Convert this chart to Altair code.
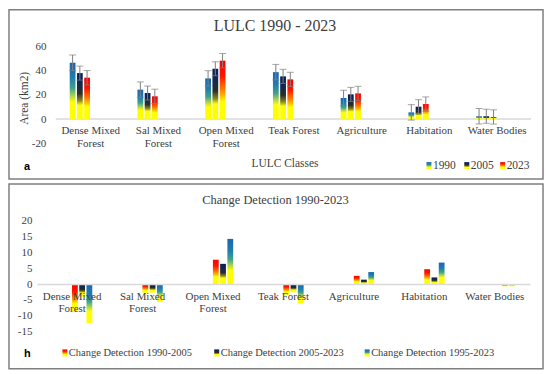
import altair as alt
import pandas as pd

# ---------------- data ----------------
categories = ["Dense Mixed Forest", "Sal Mixed Forest", "Open Mixed Forest",
              "Teak Forest", "Agriculture", "Habitation", "Water Bodies"]

series_area = ["1990", "2005", "2023"]
area_1990 = [46.6, 24.3, 33.6, 38.8, 17.4, 5.5, 2.3]
area_2005 = [38.0, 21.5, 41.6, 35.3, 20.4, 10.2, 2.3]
area_2023 = [34.2, 18.8, 48.3, 32.8, 21.2, 12.4, 1.7]
err_1990 = [6.4, 6.4, 6.4, 6.4, 6.4, 6.4, 6.4]
err_2005 = [5.8, 5.8, 5.8, 5.8, 5.8, 5.8, 5.8]
err_2023 = [5.9, 5.9, 5.9, 5.9, 5.9, 5.9, 5.9]

series_change = ["Change Detection 1990-2005", "Change Detection 2005-2023",
                 "Change Detection 1995-2023"]
change_1990_2005 = [-8.8, -2.8, 7.7, -3.4, 2.6, 4.7, 0.0]
change_2005_2023 = [-4.0, -2.7, 6.4, -2.6, 1.4, 2.1, -0.7]
change_1995_2023 = [-12.3, -5.7, 14.3, -6.1, 3.8, 6.8, -0.7]

y_ticks_a = [-20, 0, 20, 40, 60]
y_ticks_b = [-15, -10, -5, 0, 5, 10, 15, 20]

title_a = "LULC 1990 - 2023"
title_b = "Change Detection 1990-2023"
ytitle_a = "Area (km2)"
xtitle_a = "LULC Classes"

# ---------------- tables ----------------
rows_a = []
for s, vals, errs in zip(series_area, [area_1990, area_2005, area_2023],
                         [err_1990, err_2005, err_2023]):
    for c, v, e in zip(categories, vals, errs):
        rows_a.append({"category": c, "series": s, "value": v,
                       "lo": v - e, "hi": v + e})
df_a = pd.DataFrame(rows_a)

rows_b = []
for s, vals in zip(series_change, [change_1990_2005, change_2005_2023, change_1995_2023]):
    for c, v in zip(categories, vals):
        rows_b.append({"category": c, "series": s, "value": v})
df_b = pd.DataFrame(rows_b)

# ---------------- style ----------------
SERIF = "Liberation Serif"
TXT = "#404040"
FRAME = "#7f7f7f"
W = 495  # common plot width of both panels


def grad(stops):
    return alt.Gradient(gradient="linear", x1=0, x2=0, y1=0, y2=1,
                        stops=[alt.GradientStop(offset=o, color=c) for o, c in stops])


G_BLUE = grad([(0, "#1a66b2"), (0.26, "#1f7db0"), (0.45, "#3fa28a"),
               (0.6, "#b5d94a"), (0.7, "#ffff00"), (1, "#ffff00")])
G_NAVY = grad([(0, "#0b1f57"), (0.24, "#13274f"), (0.44, "#2c2e22"),
               (0.6, "#8c8c1c"), (0.7, "#ffff00"), (1, "#ffff00")])
G_RED = grad([(0, "#ff0000"), (0.26, "#ff1500"), (0.48, "#ff7800"),
              (0.62, "#ffc400"), (0.7, "#ffff00"), (1, "#ffff00")])
GRADS_A = [G_BLUE, G_NAVY, G_RED]
GRADS_B = [G_RED, G_NAVY, G_BLUE]


def txt(text, x, y, size, font=SERIF, weight="normal", align="center", angle=0, color=TXT):
    kw = dict(font=font, fontSize=size, fontWeight=weight, align=align,
              baseline="middle", color=color)
    if angle:
        kw["angle"] = angle
    return alt.Chart(alt.Data(values=[{"t": text}])).mark_text(**kw).encode(
        x=alt.value(x), y=alt.value(y), text="t:N")


def frame(x1, x2, y1, y2):
    return alt.Chart(alt.Data(values=[{"f": 1}])).mark_rect(
        filled=False, stroke=FRAME, strokeWidth=1.5).encode(
        x=alt.value(x1), x2=alt.value(x2), y=alt.value(y1), y2=alt.value(y2))


def legend_item(label, g, x, y, size):
    sq = alt.Chart(alt.Data(values=[{"t": label}])).mark_rect(fill=g).encode(
        x=alt.value(x), x2=alt.value(x + 5), y=alt.value(y - 3.5), y2=alt.value(y + 3.5))
    return [sq, txt(label, x + 6.5, y, size, align="left")]


def x_axis(offset, domain, zindex=0):
    return alt.Axis(title=None, labelAngle=0, domain=domain, domainColor="#d9d9d9",
                    domainWidth=1.5, ticks=False, offset=offset, labelFont=SERIF,
                    labelFontSize=11, labelColor=TXT, labelPadding=6,
                    labelLineHeight=12.5, labelOverlap=False, labelLimit=0,
                    zindex=zindex,
                    labelExpr="split(replace(datum.label, 'Mixed ', 'Mixed|'), '|')")


def y_axis(values, offset, pad):
    return alt.Axis(values=values, title=None, grid=False, domain=False, ticks=False,
                    labelFont=SERIF, labelFontSize=11, labelColor=TXT,
                    labelPadding=pad, offset=offset, labelOverlap=False,
                    labelExpr="toString(datum.value)")


# ---------------- panel a ----------------
H_A = 97
dom_a = [-20, 60]
off_a = -(H_A * (0 - dom_a[0]) / (dom_a[1] - dom_a[0]))
sc_ya = alt.Scale(domain=dom_a, nice=False)
ax_ya = y_axis(y_ticks_a, -14, 5)

xa = alt.X("category:N", sort=categories,
           scale=alt.Scale(paddingInner=0.38, paddingOuter=0.33, align=0.734),
           axis=x_axis(off_a, False))
xoa = alt.XOffset("series:N", sort=series_area,
                  scale=alt.Scale(domain=series_area, paddingInner=0.2, paddingOuter=0))


def ya(field):
    return alt.Y(f"{field}:Q", scale=sc_ya, axis=ax_ya)


base_a = alt.Chart(df_a)
layers_a = [frame(-28, 508, -37, 133)]
for s, g in zip(series_area, GRADS_A):
    layers_a.append(base_a.transform_filter(alt.datum.series == s)
                    .mark_bar(fill=g).encode(x=xa, xOffset=xoa, y=ya("value")))
zero_a = alt.Chart(alt.Data(values=[{"z": 0}])).mark_rule(
    color="#d9d9d9", strokeWidth=1.5).encode(
    y=ya("z"), x=alt.value(19), x2=alt.value(496))
layers_a.insert(1, zero_a)
layers_a.append(base_a.mark_rule(color="#808080", strokeWidth=1).encode(
    x=xa, xOffset=xoa, y=ya("lo"), y2="hi:Q"))
for f in ["lo", "hi"]:
    layers_a.append(base_a.mark_tick(color="#808080", thickness=1, size=7).encode(
        x=xa, xOffset=xoa, y=ya(f)))
layers_a += [
    txt(title_a, 239, -20.5, 16),
    txt(ytitle_a, -11.5, 52, 11.5, angle=270),
    txt(xtitle_a, 249, 117.5, 11.5),
    txt("a", -13, 120.5, 11, font="Liberation Sans", weight="bold", align="left", color="#000000"),
]
for label, g, lx in zip(series_area, GRADS_A, [391, 429, 465]):
    layers_a += legend_item(label, g, lx, 119.5, 11.5)

panel_a = alt.layer(*layers_a).properties(width=W, height=H_A)

# ---------------- panel b ----------------
H_B = 111
dom_b = [-15, 20]
off_b = -(H_B * (0 - dom_b[0]) / (dom_b[1] - dom_b[0]))

xb = alt.X("category:N", sort=categories,
           scale=alt.Scale(paddingInner=0.38, paddingOuter=0.19),
           axis=x_axis(off_b, True, 1))
xob = alt.XOffset("series:N", sort=series_change,
                  scale=alt.Scale(domain=series_change, paddingInner=0.2, paddingOuter=0))
yb = alt.Y("value:Q", scale=alt.Scale(domain=dom_b, nice=False),
           axis=y_axis(y_ticks_b, 0, 5))

base_b = alt.Chart(df_b)
layers_b = [frame(-28, 508, -37, 148.5)]
for s, g in zip(series_change, GRADS_B):
    layers_b.append(base_b.transform_filter(alt.datum.series == s)
                    .mark_bar(fill=g).encode(x=xb, xOffset=xob, y=yb))
layers_b += [
    txt(title_b, 239.5, -20.5, 12.5),
    txt("h", -13, 134, 11, font="Liberation Sans", weight="bold", align="left", color="#000000"),
]
for label, g, lx in zip(series_change, GRADS_B, [25.6, 178, 329]):
    layers_b += legend_item(label, g, lx, 132.5, 10.5)

panel_b = alt.layer(*layers_b).properties(width=W, height=H_B)

chart = alt.vconcat(panel_a, panel_b, spacing=3).properties(
    padding=0, background="white").configure_view(stroke=None)

chart.save("out.html", embed_options={"renderer": "svg", "actions": False})
